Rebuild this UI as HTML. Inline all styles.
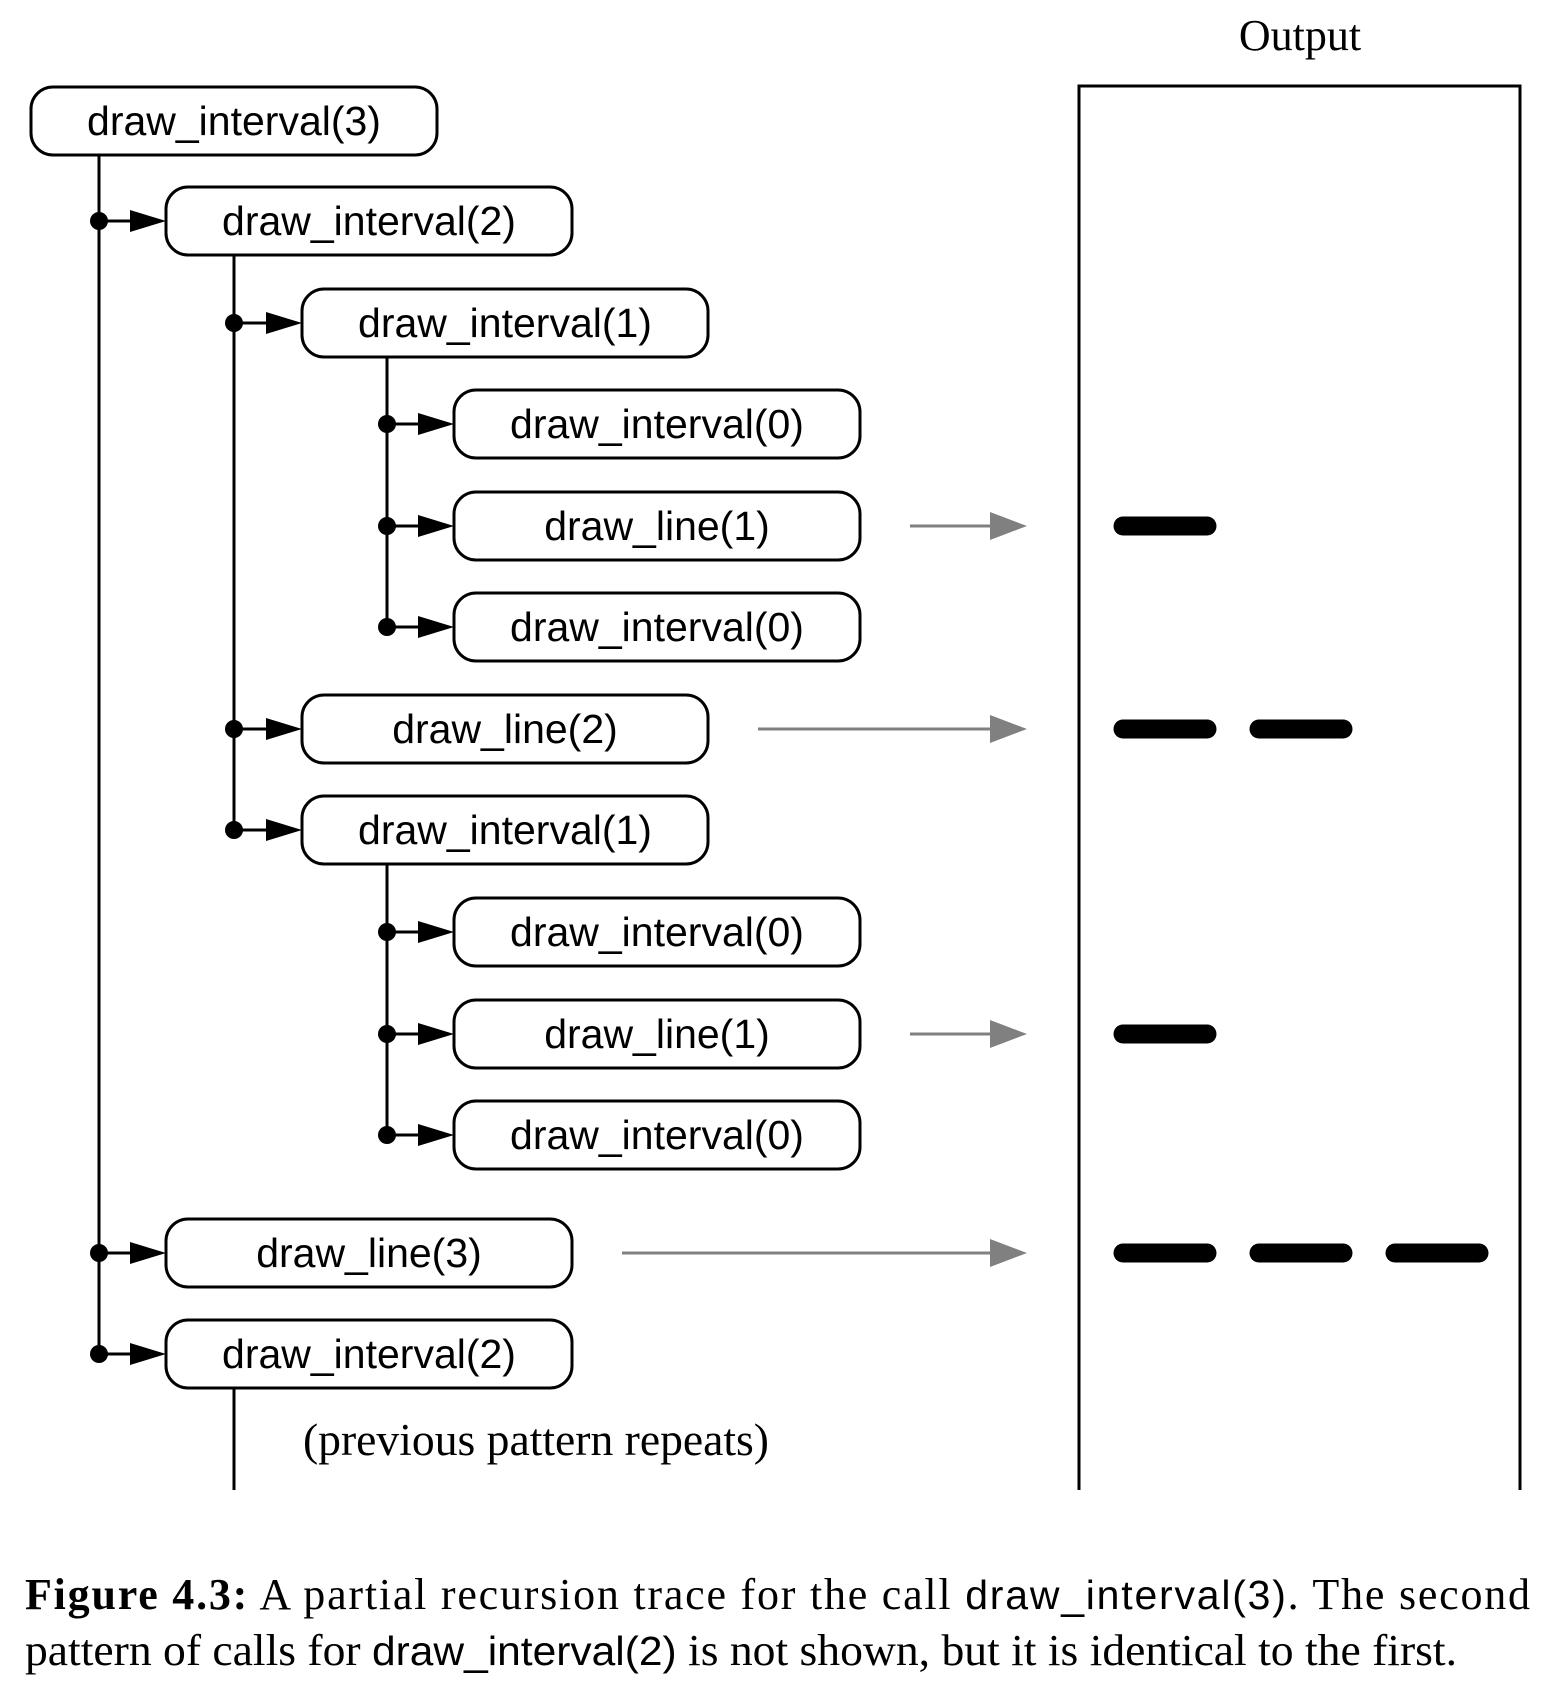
<!DOCTYPE html>
<html><head><meta charset="utf-8"><style>
html,body{margin:0;padding:0;background:#fff;}
svg{display:block;}
.box text{font-family:"Liberation Sans",sans-serif;font-size:41px;}
</style></head><body>
<svg id="fig" width="1555" height="1690" viewBox="0 0 1555 1690" xmlns="http://www.w3.org/2000/svg">
<text x="1300" y="50" text-anchor="middle" font-family="Liberation Serif, serif" font-size="44">Output</text>
<rect x="1079" y="86" width="441" height="1420" fill="none" stroke="#000" stroke-width="3"/>
<rect x="1070" y="1490" width="470" height="30" fill="#fff"/>
<g id="g"></g>
<text x="303" y="1455" font-family="Liberation Serif, serif" font-size="45" textLength="466" lengthAdjust="spacingAndGlyphs">(previous pattern repeats)</text>
<g font-family="Liberation Serif, serif" font-size="44">
<text x="25" y="1609" textLength="1505" lengthAdjust="spacing"><tspan font-weight="bold">Figure 4.3:</tspan>  A partial recursion trace for the call <tspan font-family="Liberation Sans, sans-serif" font-size="41">draw_interval(3)</tspan>.  The second</text>
<text x="25" y="1665" textLength="1432" lengthAdjust="spacingAndGlyphs">pattern of calls for <tspan font-family="Liberation Sans, sans-serif" font-size="41">draw_interval(2)</tspan> is not shown, but it is identical to the first.</text>
</g>
</svg>
<script>
const labels=["draw_interval(3)","draw_interval(2)","draw_interval(1)","draw_interval(0)","draw_line(1)","draw_interval(0)","draw_line(2)","draw_interval(1)","draw_interval(0)","draw_line(1)","draw_interval(0)","draw_line(3)","draw_interval(2)"];
const levels=[0,1,2,3,3,3,2,2,3,3,3,1,1];
const rowY=[121,221,323,424,526,627,729,830,932,1034,1135,1253,1354];
const outputTicks=[0,0,0,0,1,0,2,0,0,1,0,3,0];
const NS="http://www.w3.org/2000/svg";
const g=document.getElementById('g');
const boxLeft=[31,166,302,454], lineX=[99,234,387];
function el(t,a){const e=document.createElementNS(NS,t);for(const k in a)e.setAttribute(k,a[k]);g.appendChild(e);return e;}
for(let i=0;i<labels.length;i++){
  const L=levels[i];let last=-1;
  for(let j=i+1;j<labels.length&&levels[j]>L;j++) if(levels[j]===L+1) last=j;
  if(last>0){const v=el('line',{x1:lineX[L],y1:rowY[i]+34,x2:lineX[L],y2:rowY[last],stroke:'#000','stroke-width':3});
    
    }
}
const tl=el('line',{x1:234,y1:1388,x2:234,y2:1490,stroke:'#000','stroke-width':3});


for(let i=0;i<labels.length;i++){
  const L=levels[i],y=rowY[i],x=boxLeft[L];
  const b=document.createElementNS(NS,'g');b.setAttribute('class','box');
  
  
  g.appendChild(b);
  const r=document.createElementNS(NS,'rect');
  r.setAttribute('x',x);r.setAttribute('y',y-34);r.setAttribute('width',406);r.setAttribute('height',68);
  r.setAttribute('rx',22);r.setAttribute('fill','#fff');r.setAttribute('stroke','#000');r.setAttribute('stroke-width',3);
  b.appendChild(r);
  const t=document.createElementNS(NS,'text');
  t.setAttribute('x',x+203);t.setAttribute('y',y+14);t.setAttribute('text-anchor','middle');
  t.textContent=labels[i];b.appendChild(t);
  if(L>0){
    const lx=lineX[L-1];
    const d=el('circle',{cx:lx,cy:y,r:9,fill:'#000'});
    
    
    el('line',{x1:lx,y1:y,x2:x-30,y2:y,stroke:'#000','stroke-width':3});
    const a=el('polygon',{points:`${x-36},${y-11} ${x},${y} ${x-36},${y+11}`,fill:'#000'});
    
    
  }
  const n=outputTicks[i];
  if(n>0){
    const ga=el('line',{x1:x+406+50,y1:y,x2:995,y2:y,stroke:'#808080','stroke-width':3});
    
    
    el('polygon',{points:`990,${y-14} 1027,${y} 990,${y+14}`,fill:'#808080'});
    for(let k=0;k<n;k++){
      const tk=el('line',{x1:1123+k*136,y1:y,x2:1207+k*136,y2:y,stroke:'#000','stroke-width':19,'stroke-linecap':'round'});
      
      
    }
  }
}
</script>
</body></html>
